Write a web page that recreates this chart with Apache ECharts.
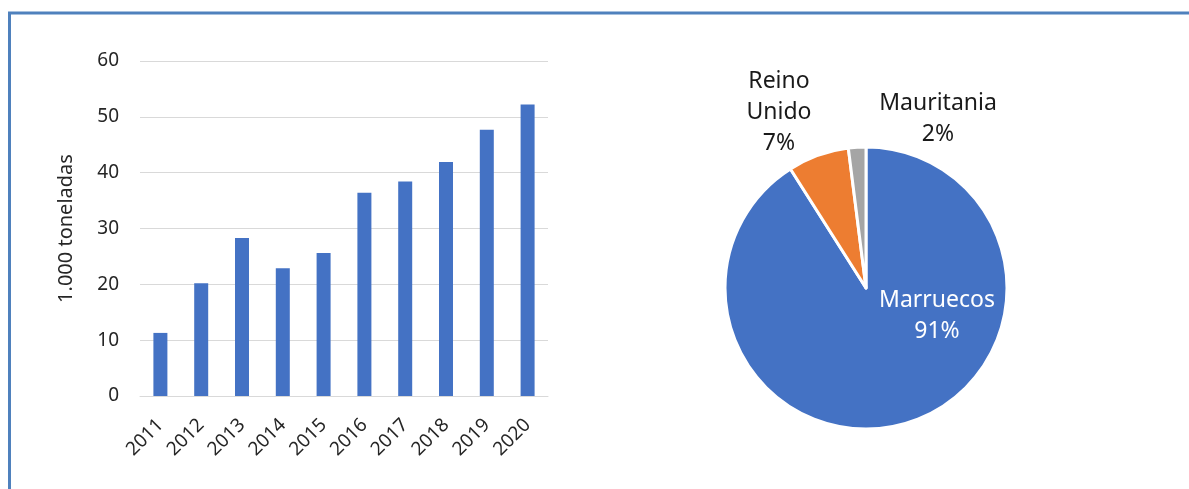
<!DOCTYPE html>
<html>
<head>
<meta charset="utf-8">
<script src="https://cdn.jsdelivr.net/npm/echarts@6/dist/echarts.min.js"></script>
<style>
    html, body { margin: 0; padding: 0; background: #fff; overflow: hidden; }
    #chart { width: 1189px; height: 489px; }
</style>
</head>
<body>
<div id="chart"></div>
<script>
// datos de la gráfica
const years = ["2011", "2012", "2013", "2014", "2015", "2016", "2017", "2018", "2019", "2020"];
const tons = [11.3, 20.2, 28.3, 22.9, 25.6, 36.4, 38.4, 41.9, 47.7, 52.2];
const countries = ["Marruecos", "Reino Unido", "Mauritania"];
const shares = [91, 7, 2];
const sliceColors = ["#4472c4", "#ed7d31", "#a5a5a5"];

const font = "Noto Sans";
const textColor = "#262626";
const chart = echarts.init(document.getElementById("chart"));

// desplazamiento de cada etiqueta desde el centro del círculo
const labelShift = [[71, 28], [-87, -176], [72, -169]];

const option = {
    animation: false,
    // marco azul superior e izquierdo
    graphic: [
        { type: "line", shape: { x1: 8, y1: 13, x2: 1189, y2: 13 }, style: { stroke: "#4f81bd", lineWidth: 3 } },
        { type: "line", shape: { x1: 9.5, y1: 12, x2: 9.5, y2: 489 }, style: { stroke: "#4f81bd", lineWidth: 3 } }
    ],
    grid: { left: 140, right: 641, top: 61, bottom: 93 },
    xAxis: {
        type: "category",
        data: years,
        axisLine: { lineStyle: { color: "#d9d9d9", width: 1 } },
        axisTick: { show: false },
        axisLabel: { rotate: 45, color: textColor, fontSize: 19, fontFamily: font, margin: 26 }
    },
    yAxis: {
        type: "value",
        min: 0,
        max: 60,
        interval: 10,
        name: "1.000 toneladas",
        nameLocation: "middle",
        nameGap: 64,
        nameTextStyle: { color: textColor, fontSize: 20, fontFamily: font },
        axisLine: { show: false },
        axisTick: { show: false },
        axisLabel: { color: textColor, fontSize: 19, fontFamily: font, margin: 21 },
        splitLine: { lineStyle: { color: "#d9d9d9", width: 1 } }
    },
    series: [
        {
            type: "bar",
            data: tons,
            barWidth: 14,
            itemStyle: { color: "#4472c4" }
        },
        {
            type: "pie",
            center: [866, 288],
            radius: 141,
            startAngle: 90,
            clockwise: true,
            itemStyle: { borderColor: "#fff", borderWidth: 3 },
            label: {
                position: "center",
                formatter: function (p) {
                    return p.name.replace(" ", "\n") + "\n" + p.value + "%";
                },
                fontSize: 23,
                lineHeight: 31,
                fontFamily: font,
                color: "#1a1a1a"
            },
            labelLine: { show: false },
            labelLayout: function (p) {
                const s = labelShift[p.dataIndex];
                return { dx: s[0], dy: s[1] };
            },
            data: countries.map(function (c, i) {
                return {
                    name: c,
                    value: shares[i],
                    itemStyle: { color: sliceColors[i] },
                    label: i === 0 ? { color: "#fff" } : {}
                };
            })
        }
    ]
};
chart.setOption(option);
</script>
</body>
</html>
